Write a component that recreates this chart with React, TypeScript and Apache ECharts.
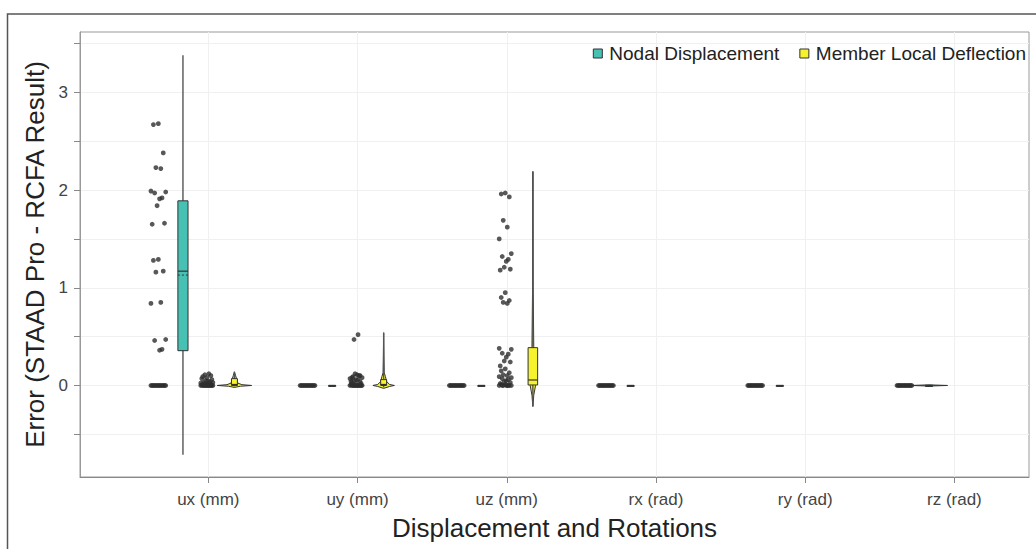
import React, { useEffect, useRef } from 'react';
import * as echarts from 'echarts';

const categories = ['ux (mm)', 'uy (mm)', 'uz (mm)', 'rx (rad)', 'ry (rad)', 'rz (rad)'];
const xTickValues = [1, 2, 3, 4, 5, 6];
const yTickValues = [-0.5, 0, 0.5, 1, 1.5, 2, 2.5, 3, 3.5];
const yLabelValues = [0, 1, 2, 3];

// box stats: [lower whisker, q1, median, q3, upper whisker]
const nodalBox = [
  [-0.71, 0.356, 1.17, 1.89, 3.38],
  [0, 0, 0, 0, 0],
  [0, 0, 0, 0, 0],
  [0, 0, 0, 0, 0],
  [0, 0, 0, 0, 0],
  [0, 0, 0, 0, 0],
];
const nodalMean = [1.13, null, null, null, null, null];
const memberBox = [
  [-0.01, 0, 0.01, 0.07, 0.14],
  [-0.02, 0, 0.01, 0.06, 0.54],
  [-0.21, 0.005, 0.056, 0.387, 2.19],
  null,
  null,
  null,
];

// violin outlines: [value, half width (density)]
const nodalViolin = [
  null,
  null,
  null,
  null,
  null,
  [[-0.006, 0], [0, 0.124], [0.006, 0]],
];
const memberViolin = [
  [[-0.02, 0], [-0.008, 0.04], [0, 0.115], [0.008, 0.05], [0.025, 0.022], [0.06, 0.016], [0.1, 0.008], [0.14, 0]],
  [[-0.03, 0], [-0.01, 0.04], [0, 0.072], [0.01, 0.04], [0.04, 0.02], [0.09, 0.012], [0.13, 0.004], [0.3, 0.002], [0.54, 0]],
  [[-0.217, 0], [-0.1, 0.006], [0, 0.018], [0.05, 0.02], [0.2, 0.012], [0.4, 0.006], [1, 0.002], [2.19, 0]],
  null,
  null,
  null,
];

// jittered raw points
const nodalPtsUx = [2.68, 2.67, 2.38, 2.23, 2.22, 1.99, 1.98, 1.97, 1.92, 1.91, 1.84, 1.66, 1.65, 1.29, 1.28, 1.17, 1.16, 0.85, 0.84, 0.47, 0.46, 0.37, 0.36, 0, 0, 0, 0, 0, 0, 0, 0, 0, 0, 0, 0, 0];
const nodalPtsUy = [0, 0, 0, 0, 0, 0, 0, 0, 0, 0, 0, 0, 0];
const nodalPtsUz = [0, 0, 0, 0, 0, 0, 0, 0, 0, 0, 0, 0, 0];
const nodalPtsRx = [0, 0, 0, 0, 0, 0, 0, 0, 0, 0, 0, 0, 0];
const nodalPtsRy = [0, 0, 0, 0, 0, 0, 0, 0, 0, 0, 0, 0, 0];
const nodalPtsRz = [0, 0, 0, 0, 0, 0, 0, 0, 0, 0, 0, 0, 0];
const memberPtsUx = [0, 0, 0, 0, 0, 0, 0, 0, 0, 0, 0, 0, 0.005, 0.01, 0.01, 0.015, 0.02, 0.02, 0.025, 0.03, 0.03, 0.04, 0.045, 0.05, 0.06, 0.07, 0.08, 0.09, 0.1, 0.11, 0.12];
const memberPtsUy = [0, 0, 0, 0, 0, 0, 0, 0, 0, 0, 0, 0, 0.01, 0.02, 0.03, 0.04, 0.05, 0.06, 0.07, 0.08, 0.09, 0.1, 0.11, 0.12, 0.02, 0.04, 0.06, 0.08, 0.1, 0.47, 0.52];
const memberPtsUz = [1.97, 1.96, 1.93, 1.69, 1.62, 1.5, 1.35, 1.32, 1.29, 1.27, 1.21, 1.19, 1.18, 0.95, 0.9, 0.87, 0.85, 0.84, 0.38, 0.37, 0.33, 0.32, 0.29, 0.25, 0.24, 0.2, 0.17, 0.15, 0.13, 0.11, 0.1, 0.09, 0.08, 0.07, 0.06, 0.05, 0.04, 0.03, 0.02, 0.01, 0.01, 0, 0, 0, 0, 0, 0, 0, 0];

const nodalPts = [nodalPtsUx, nodalPtsUy, nodalPtsUz, nodalPtsRx, nodalPtsRy, nodalPtsRz];
const memberPts = [memberPtsUx, memberPtsUy, memberPtsUz, [], [], []];

const TEAL = '#46c1b4';
const YELLOW = '#f6f22c';
const DARK = '#2e2e2e';
const FONT = 'Liberation Sans, Arial, sans-serif';

const jitterPattern = [0, -0.6, 0.6, -0.3, 0.3, -0.9, 0.9, -0.45, 0.45, 0.15, -0.15, 0.75, -0.75];

function buildPoints(lists: number[][], offset: number, spread: number) {
  const out: number[][] = [];
  lists.forEach((vals, i) => {
    vals.forEach((v, j) => {
      out.push([i + 1 + offset + jitterPattern[j % jitterPattern.length] * spread, v]);
    });
  });
  return out;
}

function makeRender(offset: number, boxes: any[], means: any[], violins: any[], fill: string, halfs: number[]) {
  return (params: any, api: any) => {
    const idx = params.dataIndex;
    const c = idx + 1 + offset;
    const children: any[] = [];
    const v = violins[idx];
    if (v) {
      const left = v.map((p: number[]) => api.coord([c - p[1], p[0]]));
      const right = v.slice().reverse().map((p: number[]) => api.coord([c + p[1], p[0]]));
      children.push({
        type: 'polygon',
        shape: { points: left.concat(right) },
        style: { fill, stroke: '#333', lineWidth: 1 },
      });
    }
    const b = boxes[idx];
    if (b) {
      const [lo, q1, med, q3, hi] = b;
      const top = api.coord([c, hi]);
      const bot = api.coord([c, lo]);
      if (hi !== lo) {
        children.push({
          type: 'line',
          shape: { x1: top[0], y1: top[1], x2: bot[0], y2: bot[1] },
          style: { stroke: '#555', lineWidth: 1.4 },
        });
      }
      const h = halfs[idx];
      const p1 = api.coord([c - h, q3]);
      const p2 = api.coord([c + h, q1]);
      children.push({
        type: 'rect',
        shape: { x: p1[0], y: p1[1], width: p2[0] - p1[0], height: Math.max(p2[1] - p1[1], 1) },
        style: { fill, stroke: '#333', lineWidth: 1 },
      });
      const m1 = api.coord([c - h, med]);
      const m2 = api.coord([c + h, med]);
      children.push({
        type: 'line',
        shape: { x1: m1[0], y1: m1[1], x2: m2[0], y2: m2[1] },
        style: { stroke: '#333', lineWidth: 1.2 },
      });
      const mean = means ? means[idx] : null;
      if (mean != null) {
        const a1 = api.coord([c - h, mean]);
        const a2 = api.coord([c + h, mean]);
        children.push({
          type: 'line',
          shape: { x1: a1[0], y1: a1[1], x2: a2[0], y2: a2[1] },
          style: { stroke: '#333', lineWidth: 1, lineDash: [2, 2] },
        });
      }
    }
    return { type: 'group', children };
  };
}

const nodalHalf = [0.034, 0.024, 0.024, 0.024, 0.024, 0.024];
const memberHalf = [0.02, 0.02, 0.032, 0.02, 0.02, 0.02];

export default function App() {
  const ref = useRef<HTMLDivElement>(null);
  useEffect(() => {
    const chart = echarts.init(ref.current!, null, { renderer: 'svg' });
    const catData = categories.map((_, i) => [i + 1, 0]);
    const option: any = {
      animation: false,
      backgroundColor: '#fff',
      graphic: [
        {
          type: 'rect',
          shape: { x: 7.5, y: 14, width: 1100, height: 600 },
          style: { fill: 'none', stroke: '#555', lineWidth: 1.5 },
          silent: true,
          z: -10,
        },
      ],
      grid: {
        left: 80,
        top: 32,
        width: 949,
        height: 445,
        show: true,
        borderColor: '#9a9a9a',
        borderWidth: 1,
      },
      legend: {
        data: [
          { name: 'Nodal Displacement', itemStyle: { color: TEAL, borderColor: '#333', borderWidth: 1 } },
          { name: 'Member Local Deflection', itemStyle: { color: YELLOW, borderColor: '#333', borderWidth: 1 } },
        ],
        right: 5,
        top: 39,
        icon: 'rect',
        itemWidth: 9,
        itemHeight: 9,
        itemGap: 20,
        textStyle: { fontSize: 19, color: '#222', fontFamily: FONT, padding: [0, 0, 0, 2] },
      },
      xAxis: {
        type: 'value',
        min: 0.14,
        max: 6.5,
        axisLine: { show: true, onZero: false, lineStyle: { color: '#888' } },
        axisTick: { show: true, customValues: xTickValues, length: 6, lineStyle: { color: '#888' } },
        axisLabel: {
          customValues: xTickValues,
          formatter: (v: number) => categories[Math.round(v) - 1] ?? '',
          fontSize: 17,
          color: '#444',
          margin: 14,
          fontFamily: FONT,
        },
        splitLine: { show: false },
        name: 'Displacement and Rotations',
        nameLocation: 'middle',
        nameGap: 38,
        nameTextStyle: { fontSize: 26, color: '#222', fontFamily: FONT },
      },
      yAxis: {
        type: 'value',
        min: -0.937,
        max: 3.618,
        axisLine: { show: true, onZero: false, lineStyle: { color: '#999' } },
        axisTick: { show: true, customValues: yTickValues, length: 6, lineStyle: { color: '#888' } },
        axisLabel: {
          customValues: yLabelValues,
          formatter: (v: number) => String(v),
          fontSize: 17,
          color: '#444',
          margin: 12,
          fontFamily: FONT,
        },
        splitLine: { show: false },
        name: 'Error (STAAD Pro - RCFA Result)',
        nameLocation: 'middle',
        nameGap: 32,
        nameTextStyle: { fontSize: 26, color: '#222', fontFamily: FONT },
      },
      series: [
        {
          type: 'scatter',
          name: 'grid',
          data: [],
          z: 0,
          silent: true,
          markLine: {
            silent: true,
            z: 0,
            symbol: ['none', 'none'],
            label: { show: false },
            lineStyle: { color: '#f0f0f0', width: 1, type: 'solid' },
            data: [
              ...yTickValues.map((v) => ({ yAxis: v })),
              ...xTickValues.map((v) => ({ xAxis: v })),
            ],
          },
        },
        {
          type: 'scatter',
          name: 'nodalPoints',
          data: buildPoints(nodalPts, -0.335, 0.055),
          symbol: 'circle',
          symbolSize: 4.8,
          itemStyle: { color: DARK },
          z: 3,
        },
        {
          type: 'scatter',
          name: 'memberPoints',
          data: buildPoints(memberPts, -0.01, 0.045),
          symbol: 'circle',
          symbolSize: 4.8,
          itemStyle: { color: DARK },
          z: 3,
        },
        {
          type: 'custom',
          name: 'Nodal Displacement',
          data: catData,
          itemStyle: { color: TEAL },
          renderItem: makeRender(-0.17, nodalBox, nodalMean, nodalViolin, TEAL, nodalHalf),
          z: 4,
        },
        {
          type: 'custom',
          name: 'Member Local Deflection',
          data: catData,
          itemStyle: { color: YELLOW },
          renderItem: makeRender(0.175, memberBox, [], memberViolin, YELLOW, memberHalf),
          z: 4,
        },
      ],
    };
    chart.setOption(option);
    return () => chart.dispose();
  }, []);
  return (
    <div
      ref={ref}
      style={{ position: 'fixed', left: 0, top: 0, width: 1036, height: 549, background: '#fff' }}
    />
  );
}
